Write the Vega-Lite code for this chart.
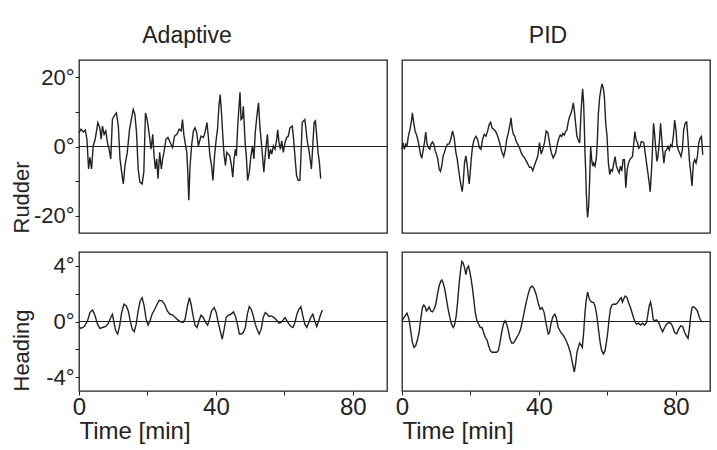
{
  "$schema": "https://vega.github.io/schema/vega-lite/v6.json",
  "background": "white",
  "padding": {"left": 9, "top": 24, "right": 5, "bottom": 5},
  "datasets": {
    "ra": [
      {"t":0,"v":4.0},{"t":0.58,"v":5.0},{"t":1.26,"v":4.2},{"t":1.84,"v":4.8},{"t":2.32,"v":2.1},{"t":2.8,"v":-6.5},{"t":3.19,"v":-3.1},{"t":3.67,"v":-6.5},{"t":4.15,"v":0.2},{"t":4.73,"v":2.1},{"t":5.51,"v":6.9},{"t":6.09,"v":5.4},{"t":6.47,"v":2.1},{"t":6.86,"v":5.9},{"t":7.34,"v":3.5},{"t":7.83,"v":4.5},{"t":8.31,"v":1.1},{"t":8.79,"v":-0.8},{"t":9.28,"v":-3.6},{"t":9.76,"v":7.8},{"t":10.24,"v":8.8},{"t":10.92,"v":9.7},{"t":11.5,"v":5.9},{"t":11.98,"v":-3.6},{"t":12.46,"v":-7.4},{"t":12.95,"v":-10.8},{"t":13.43,"v":-5.5},{"t":14.11,"v":-1.7},{"t":14.78,"v":5.0},{"t":15.36,"v":8.2},{"t":15.85,"v":10.7},{"t":16.33,"v":9.3},{"t":16.81,"v":4.0},{"t":17.29,"v":-6.5},{"t":17.78,"v":-10.3},{"t":18.45,"v":-10.8},{"t":18.94,"v":-7.4},{"t":19.42,"v":9.7},{"t":19.9,"v":7.8},{"t":20.19,"v":5.9},{"t":20.58,"v":3.0},{"t":21.06,"v":-0.8},{"t":21.55,"v":3.5},{"t":21.93,"v":-2.7},{"t":22.32,"v":-6.5},{"t":22.71,"v":-3.6},{"t":23.09,"v":-9.3},{"t":23.57,"v":-1.7},{"t":24.06,"v":-6.5},{"t":24.44,"v":-3.6},{"t":24.83,"v":-1.7},{"t":25.41,"v":2.1},{"t":25.99,"v":2.6},{"t":26.67,"v":1.1},{"t":27.34,"v":-0.3},{"t":27.92,"v":3.0},{"t":28.6,"v":3.5},{"t":29.28,"v":5.0},{"t":29.86,"v":4.5},{"t":30.24,"v":7.8},{"t":30.63,"v":3.5},{"t":31.01,"v":1.1},{"t":31.5,"v":-1.7},{"t":31.79,"v":-7.4},{"t":32.08,"v":-15.5},{"t":32.46,"v":-5.5},{"t":32.95,"v":0.7},{"t":33.43,"v":4.5},{"t":33.91,"v":5.4},{"t":34.4,"v":4.0},{"t":34.88,"v":0.2},{"t":35.65,"v":3.0},{"t":36.33,"v":2.6},
      {"t":36.81,"v":4.0},{"t":37.39,"v":6.9},{"t":37.78,"v":3.0},{"t":38.26,"v":-2.7},{"t":38.74,"v":-5.5},{"t":39.13,"v":-9.8},{"t":39.61,"v":-2.7},{"t":40.1,"v":2.1},{"t":40.48,"v":5.0},{"t":40.87,"v":11.6},{"t":41.26,"v":15.0},{"t":41.64,"v":9.7},{"t":42.03,"v":3.0},{"t":42.42,"v":-2.7},{"t":42.8,"v":-5.5},{"t":43.19,"v":-1.7},{"t":43.57,"v":-2.2},{"t":44.06,"v":-2.7},{"t":44.54,"v":-5.5},{"t":44.93,"v":-8.9},{"t":45.31,"v":-3.6},{"t":45.7,"v":-0.8},{"t":45.99,"v":-2.7},{"t":46.38,"v":5.9},{"t":46.76,"v":11.6},{"t":47.05,"v":15.7},{"t":47.34,"v":7.8},{"t":47.73,"v":8.2},{"t":48.02,"v":11.6},{"t":48.31,"v":5.9},{"t":48.6,"v":0.2},{"t":48.89,"v":-2.7},{"t":49.28,"v":-9.8},{"t":49.76,"v":-7.4},{"t":50.24,"v":-2.7},{"t":50.72,"v":0.2},{"t":51.11,"v":-3.6},{"t":51.5,"v":4.0},{"t":51.98,"v":8.8},{"t":52.46,"v":12.6},{"t":52.85,"v":5.9},{"t":53.24,"v":1.6},{"t":53.62,"v":-2.7},{"t":54.01,"v":-7.4},{"t":54.4,"v":-2.7},{"t":54.78,"v":1.1},{"t":55.07,"v":3.5},{"t":55.46,"v":-3.6},{"t":55.94,"v":-0.8},{"t":56.33,"v":-2.2},{"t":56.81,"v":0.2},{"t":57.29,"v":-0.8},{"t":57.78,"v":2.1},{"t":58.07,"v":4.8},{"t":58.45,"v":1.1},{"t":58.84,"v":-0.8},{"t":59.23,"v":1.6},{"t":59.71,"v":-1.7},{"t":60.19,"v":1.1},{"t":60.68,"v":2.6},{"t":61.16,"v":3.0},{"t":61.64,"v":5.4},{"t":62.32,"v":5.9},{"t":62.71,"v":2.1},{"t":63.09,"v":-2.7},{"t":63.57,"v":-8.4},{"t":64.06,"v":-9.8},{"t":64.54,"v":-9.8},{"t":64.83,"v":-3.6},{"t":65.22,"v":6.9},{"t":65.6,"v":7.4},{"t":65.99,"v":7.8},{"t":66.38,"v":4.5},{"t":66.76,"v":1.1},{"t":67.15,"v":-0.8},{"t":67.54,"v":-3.6},{"t":67.92,"v":-6.5},{"t":68.31,"v":0.2},{"t":68.7,"v":6.9},{"t":69.08,"v":7.4},{"t":69.47,"v":3.0},{"t":69.86,"v":-1.7},{"t":70.24,"v":-4.6},{"t":70.63,"v":-9.3}
    ],
    "rp": [
      {"t":0,"v":-0.8},{"t":0.29,"v":1.1},{"t":0.68,"v":-0.8},{"t":1.08,"v":0.7},{"t":1.47,"v":0.2},{"t":1.86,"v":3.0},{"t":2.35,"v":5.0},{"t":2.83,"v":7.8},{"t":3.03,"v":9.7},{"t":3.42,"v":6.9},{"t":3.81,"v":4.5},{"t":4.2,"v":3.5},{"t":4.59,"v":2.1},{"t":4.99,"v":0.2},{"t":5.38,"v":-2.2},{"t":5.77,"v":-3.4},{"t":6.16,"v":-1.2},{"t":6.55,"v":1.1},{"t":6.94,"v":4.2},{"t":7.33,"v":0.7},{"t":7.72,"v":-0.3},{"t":8.11,"v":-0.8},{"t":8.5,"v":0.7},{"t":8.9,"v":1.3},{"t":9.29,"v":0.7},{"t":9.68,"v":-1.2},{"t":10.07,"v":-2.2},{"t":10.46,"v":-3.6},{"t":10.85,"v":-6.5},{"t":11.24,"v":-7.2},{"t":11.63,"v":-5.5},{"t":12.02,"v":-2.7},{"t":12.41,"v":-1.7},{"t":12.81,"v":-0.3},{"t":13.29,"v":0.7},{"t":13.78,"v":0.7},{"t":14.27,"v":2.1},{"t":14.76,"v":4.5},{"t":15.25,"v":2.6},{"t":15.74,"v":-1.7},{"t":16.13,"v":-3.6},{"t":16.52,"v":-6.5},{"t":16.91,"v":-9.3},{"t":17.3,"v":-11.6},{"t":17.6,"v":-13.0},{"t":17.89,"v":-10.3},{"t":18.28,"v":-4.6},{"t":18.67,"v":-2.7},{"t":19.06,"v":-5.5},{"t":19.35,"v":-8.4},{"t":19.65,"v":-10.8},{"t":19.94,"v":-7.4},{"t":20.23,"v":-3.6},{"t":20.63,"v":0.2},{"t":21.11,"v":2.1},{"t":21.6,"v":2.9},{"t":22.09,"v":2.1},{"t":22.58,"v":-0.3},{"t":23.07,"v":-0.8},{"t":23.56,"v":2.1},{"t":24.05,"v":3.5},{"t":24.54,"v":3.0},{"t":25.02,"v":4.5},{"t":25.51,"v":6.4},{"t":25.9,"v":7.0},{"t":26.3,"v":5.4},{"t":26.78,"v":5.0},{"t":27.27,"v":4.5},{"t":27.76,"v":3.5},{"t":28.25,"v":2.1},{"t":28.74,"v":0.2},{"t":29.23,"v":-1.7},{"t":29.72,"v":-2.9},{"t":30.21,"v":-0.8},{"t":30.6,"v":2.1},{"t":31.09,"v":4.0},{"t":31.57,"v":6.4},{"t":31.87,"v":8.3},{"t":32.16,"v":5.4},{"t":32.55,"v":3.5},{"t":32.94,"v":3.0},{"t":33.33,"v":1.6},{"t":33.82,"v":0.7},{"t":34.31,"v":-0.3},{"t":34.8,"v":-1.7},{"t":35.29,"v":-2.7},{"t":35.78,"v":-3.2},{"t":36.27,"v":-4.1},{"t":36.75,"v":-5.0},{"t":37.24,"v":-6.0},{"t":37.73,"v":-6.0},{"t":38.22,"v":-7.0},{"t":38.71,"v":-5.5},{"t":39.2,"v":-4.1},{"t":39.69,"v":-2.7},{"t":40.18,"v":1.1},{"t":40.66,"v":-2.2},{"t":41.15,"v":-0.8},{"t":41.64,"v":1.1},{"t":42.13,"v":4.5},{"t":42.62,"v":4.0},{"t":43.11,"v":1.1},{"t":43.6,"v":-1.7},
      {"t":44.18,"v":-3.3},{"t":44.87,"v":-1.9},{"t":45.45,"v":1.0},{"t":45.85,"v":2.4},{"t":46.24,"v":3.3},{"t":46.63,"v":2.9},{"t":47.02,"v":3.8},{"t":47.41,"v":3.3},{"t":47.8,"v":4.3},{"t":48.19,"v":4.8},{"t":48.58,"v":7.1},{"t":48.97,"v":8.6},{"t":49.36,"v":9.5},{"t":49.76,"v":11.0},{"t":50.05,"v":12.6},{"t":50.34,"v":10.5},{"t":50.73,"v":6.7},{"t":51.12,"v":2.9},{"t":51.52,"v":1.9},{"t":51.91,"v":1.0},{"t":52.3,"v":9.5},{"t":52.59,"v":14.3},{"t":52.79,"v":16.7},{"t":53.08,"v":12.4},{"t":53.28,"v":5.7},{"t":53.47,"v":-1.9},{"t":53.67,"v":-6.7},{"t":53.86,"v":-13.3},{"t":54.06,"v":-18.1},{"t":54.25,"v":-20.5},{"t":54.55,"v":-17.1},{"t":54.84,"v":-9.5},{"t":55.13,"v":0},{"t":55.43,"v":-3.8},{"t":55.72,"v":-5.7},{"t":56.01,"v":-4.8},{"t":56.4,"v":-5.7},{"t":56.79,"v":-3.3},{"t":57.09,"v":1.9},{"t":57.38,"v":9.5},{"t":57.77,"v":14.3},{"t":58.16,"v":16.7},{"t":58.46,"v":18.1},{"t":58.85,"v":16.7},{"t":59.14,"v":14.3},{"t":59.53,"v":6.7},{"t":59.92,"v":2.9},{"t":60.31,"v":-4.8},{"t":60.7,"v":-8.1},{"t":61.09,"v":-6.7},{"t":61.49,"v":-7.1},{"t":61.88,"v":-4.8},{"t":62.27,"v":-2.9},{"t":62.66,"v":-5.7},{"t":63.05,"v":-6.7},{"t":63.44,"v":-7.6},{"t":63.83,"v":-5.7},{"t":64.22,"v":-7.1},{"t":64.61,"v":-3.8},{"t":65.0,"v":-3.8},{"t":65.4,"v":-11.9},{"t":65.79,"v":-6.7},{"t":66.18,"v":-4.8},{"t":66.57,"v":-3.8},{"t":66.96,"v":-3.3},{"t":67.35,"v":-2.9},{"t":67.74,"v":1.0},{"t":68.04,"v":4.3},{"t":68.43,"v":1.9},{"t":68.82,"v":1.0},{"t":69.21,"v":-0.5},{"t":69.6,"v":0},{"t":69.89,"v":1.4},{"t":70.28,"v":1.4},{"t":70.67,"v":1.0},{"t":71.07,"v":-1.9},{"t":71.46,"v":-4.8},{"t":71.85,"v":-7.6},{"t":72.24,"v":-10.5},{"t":72.53,"v":-13.1},{"t":72.92,"v":-6.7},{"t":73.22,"v":0},{"t":73.51,"v":6.7},{"t":73.8,"v":3.8},{"t":74.09,"v":0},{"t":74.49,"v":-4.3},{"t":74.78,"v":-2.9},{"t":75.17,"v":1.0},{"t":75.56,"v":6.7},{"t":75.85,"v":2.9},{"t":76.15,"v":-1.0},{"t":76.54,"v":-4.8},{"t":76.93,"v":-1.4},{"t":77.32,"v":-1.0},{"t":77.71,"v":0},{"t":78.1,"v":-1.0},{"t":78.49,"v":0.5},{"t":78.89,"v":0},{"t":79.28,"v":2.9},{"t":79.67,"v":7.6},{"t":80.06,"v":4.8},{"t":80.35,"v":0.5},{"t":80.74,"v":-1.0},{"t":81.13,"v":-1.9},{"t":81.52,"v":-2.9},{"t":81.92,"v":-1.0},{"t":82.31,"v":4.8},{"t":82.8,"v":6.9},{"t":83.19,"v":7.1},{"t":83.58,"v":1.9},{"t":83.97,"v":-3.8},{"t":84.36,"v":-7.6},{"t":84.75,"v":-11.4},{"t":85.14,"v":-4.8},{"t":85.53,"v":-3.8},{"t":85.92,"v":-4.8},{"t":86.31,"v":-2.9},{"t":86.71,"v":1.0},{"t":87.1,"v":2.4},{"t":87.49,"v":2.9},{"t":87.88,"v":-2.4}
    ],
    "ha": [
      {"t":0,"v":-0.36},{"t":0.58,"v":-0.5},{"t":1.55,"v":-0.36},{"t":2.51,"v":0.05},{"t":3.19,"v":0.64},{"t":3.96,"v":0.83},{"t":4.73,"v":0.4},{"t":5.41,"v":-0.19},{"t":6.09,"v":-0.5},{"t":6.86,"v":-0.43},{"t":7.83,"v":-0.36},{"t":8.6,"v":-0.12},{"t":9.28,"v":0.29},{"t":9.76,"v":0.52},{"t":10.24,"v":-0.07},{"t":10.72,"v":-0.67},{"t":11.3,"v":-0.9},{"t":11.88,"v":-0.31},{"t":12.46,"v":0.64},{"t":13.14,"v":1.24},{"t":13.82,"v":1.12},{"t":14.4,"v":0.76},{"t":14.98,"v":0.05},{"t":15.56,"v":-0.55},{"t":16.14,"v":-0.74},{"t":16.71,"v":-0.19},{"t":17.29,"v":0.76},{"t":17.87,"v":1.48},{"t":18.45,"v":1.71},{"t":19.03,"v":1.12},{"t":19.61,"v":0.17},{"t":20.19,"v":-0.26},{"t":20.77,"v":0.05},{"t":21.35,"v":0.52},{"t":22.13,"v":0.88},{"t":22.8,"v":1.24},{"t":23.48,"v":1.52},{"t":24.25,"v":1.48},{"t":25.02,"v":1.24},{"t":25.8,"v":0.76},{"t":26.57,"v":0.52},{"t":27.34,"v":0.48},{"t":28.12,"v":0.29},{"t":28.89,"v":0.12},{"t":29.66,"v":-0.02},{"t":30.43,"v":-0.07},{"t":31.01,"v":0.17},{"t":31.59,"v":1.0},{"t":32.27,"v":1.71},{"t":32.75,"v":1.24},{"t":33.33,"v":0.4},{"t":33.91,"v":-0.26},{"t":34.49,"v":-0.43},{"t":35.07,"v":0.05},{"t":35.65,"v":0.45},{"t":36.33,"v":0.29},{"t":37.0,"v":-0.07},{"t":37.58,"v":-0.26},{"t":38.16,"v":0.17},{"t":38.74,"v":0.76},{"t":39.52,"v":1.0},{"t":40.1,"v":0.64},{"t":40.68,"v":-0.07},{"t":41.26,"v":-0.67},{"t":41.84,"v":-1.26},{"t":42.42,"v":-0.55},{"t":43.0,"v":0.29},{"t":43.57,"v":0.45},{"t":44.35,"v":0.52},{"t":45.12,"v":0.69},{"t":45.7,"v":0.4},{"t":46.28,"v":-0.19},{"t":46.86,"v":-0.9},{"t":47.44,"v":-0.9},{"t":48.02,"v":-0.79},{"t":48.6,"v":-0.43},{"t":49.18,"v":0.52},{"t":49.76,"v":1.07},{"t":50.34,"v":0.88},{"t":50.92,"v":0.4},{"t":51.5,"v":-0.19},{"t":52.08,"v":-0.6},{"t":52.66,"v":-0.9},{"t":53.24,"v":-0.55},{"t":53.82,"v":0.29},{"t":54.4,"v":0.64},{"t":54.98,"v":0.52},{"t":55.56,"v":0.36},{"t":56.14,"v":0.4},{"t":56.71,"v":0.33},{"t":57.29,"v":0.21},{"t":57.87,"v":0.05},{"t":58.45,"v":-0.12},{"t":59.03,"v":-0.07},{"t":59.61,"v":0.1},{"t":60.19,"v":0.29},{"t":60.77,"v":0.05},{"t":61.35,"v":-0.19},{"t":61.93,"v":-0.36},{"t":62.51,"v":-0.43},{"t":63.09,"v":-0.07},{"t":63.67,"v":0.52},{"t":64.25,"v":0.88},{"t":64.83,"v":1.07},{"t":65.41,"v":0.4},{"t":65.99,"v":-0.19},{"t":66.57,"v":-0.43},{"t":67.15,"v":-0.07},{"t":67.73,"v":0.29},{"t":68.31,"v":0.52},{"t":68.89,"v":0.05},{"t":69.47,"v":-0.36},{"t":70.05,"v":0.05},{"t":70.63,"v":0.52},{"t":71.11,"v":0.83}
    ],
    "hp": [
      {"t":0,"v":0.05},{"t":0.88,"v":0.4},{"t":1.47,"v":0.6},{"t":2.05,"v":0.17},{"t":2.54,"v":-0.67},{"t":3.03,"v":-1.5},{"t":3.52,"v":-1.86},{"t":4.01,"v":-1.74},{"t":4.5,"v":-1.31},{"t":4.99,"v":-0.79},{"t":5.47,"v":0.17},{"t":5.96,"v":1.0},{"t":6.35,"v":1.19},{"t":6.74,"v":1.07},{"t":7.14,"v":0.76},{"t":7.53,"v":0.88},{"t":7.92,"v":1.05},{"t":8.41,"v":0.76},{"t":8.9,"v":0.69},{"t":9.38,"v":0.88},{"t":9.87,"v":1.24},{"t":10.36,"v":1.95},{"t":10.85,"v":2.55},{"t":11.34,"v":2.9},{"t":11.63,"v":2.98},{"t":12.02,"v":2.79},{"t":12.51,"v":2.31},{"t":13.0,"v":1.6},{"t":13.49,"v":0.88},{"t":13.98,"v":0.29},{"t":14.47,"v":-0.19},{"t":14.96,"v":-0.43},{"t":15.35,"v":-0.26},{"t":15.84,"v":0.4},{"t":16.23,"v":1.36},{"t":16.72,"v":2.79},{"t":17.2,"v":3.86},{"t":17.5,"v":4.33},{"t":17.89,"v":4.21},{"t":18.28,"v":3.86},{"t":18.67,"v":3.38},{"t":19.06,"v":3.86},{"t":19.45,"v":3.98},{"t":19.84,"v":3.55},{"t":20.23,"v":3.02},{"t":20.63,"v":2.31},{"t":21.02,"v":1.48},{"t":21.41,"v":0.64},{"t":21.9,"v":0.05},{"t":22.39,"v":-0.19},{"t":22.87,"v":-0.43},{"t":23.36,"v":-0.43},{"t":23.85,"v":-0.79},{"t":24.34,"v":-1.14},{"t":24.83,"v":-1.31},{"t":25.32,"v":-1.74},{"t":25.81,"v":-2.1},{"t":26.3,"v":-2.21},{"t":26.98,"v":-2.21},{"t":27.66,"v":-2.21},{"t":28.15,"v":-2.1},{"t":28.64,"v":-1.5},{"t":29.13,"v":-0.79},{"t":29.62,"v":-0.19},{"t":30.11,"v":0.05},{"t":30.6,"v":-0.19},{"t":31.09,"v":-0.67},{"t":31.57,"v":-1.26},{"t":32.06,"v":-1.55},{"t":32.55,"v":-1.55},{"t":33.04,"v":-1.38},{"t":33.53,"v":-1.14},{"t":34.12,"v":-0.9},{"t":34.6,"v":-0.6},{"t":35.09,"v":-0.07},{"t":35.68,"v":0.64},{"t":36.27,"v":1.36},{"t":36.85,"v":1.95},{"t":37.44,"v":2.43},{"t":38.03,"v":2.55},{"t":38.61,"v":2.36},{"t":39.2,"v":1.95},{"t":39.78,"v":1.36},{"t":40.37,"v":0.88},{"t":40.96,"v":1.0},{"t":41.54,"v":0.64},{"t":42.13,"v":-0.19},{"t":42.72,"v":-0.9},{"t":43.11,"v":-0.79},{"t":43.6,"v":-0.07},{"t":44.09,"v":0.36},{"t":44.67,"v":0.52},{"t":45.06,"v":0.29},
      {"t":45.65,"v":-0.43},{"t":46.43,"v":-0.79},{"t":47.21,"v":-1.02},{"t":47.99,"v":-1.38},{"t":48.58,"v":-1.74},{"t":49.17,"v":-2.21},{"t":49.76,"v":-2.93},{"t":50.34,"v":-3.64},{"t":50.73,"v":-3.05},{"t":51.12,"v":-2.21},{"t":51.52,"v":-1.86},{"t":51.91,"v":-1.55},{"t":52.3,"v":-1.69},{"t":52.69,"v":-1.86},{"t":53.08,"v":-0.79},{"t":53.47,"v":0.64},{"t":53.86,"v":1.6},{"t":54.25,"v":2.12},{"t":54.64,"v":1.71},{"t":55.03,"v":1.48},{"t":55.43,"v":1.4},{"t":56.01,"v":1.36},{"t":56.4,"v":1.12},{"t":56.79,"v":0.64},{"t":57.18,"v":-0.07},{"t":57.58,"v":-0.9},{"t":57.97,"v":-1.62},{"t":58.36,"v":-2.1},{"t":58.85,"v":-2.33},{"t":59.34,"v":-2.1},{"t":59.73,"v":-1.5},{"t":60.12,"v":-0.79},{"t":60.51,"v":0.17},{"t":60.9,"v":0.88},{"t":61.29,"v":1.17},{"t":61.88,"v":1.26},{"t":62.46,"v":1.24},{"t":63.05,"v":1.36},{"t":63.64,"v":1.6},{"t":64.03,"v":1.71},{"t":64.42,"v":1.4},{"t":64.81,"v":1.64},{"t":65.2,"v":1.83},{"t":65.79,"v":1.71},{"t":66.18,"v":1.36},{"t":66.76,"v":1.0},{"t":67.35,"v":0.52},{"t":67.94,"v":0.05},{"t":68.52,"v":-0.19},{"t":69.11,"v":-0.12},{"t":69.7,"v":-0.26},{"t":70.28,"v":-0.12},{"t":70.87,"v":-0.26},{"t":71.46,"v":-0.07},{"t":71.85,"v":0.52},{"t":72.24,"v":1.12},{"t":72.63,"v":1.4},{"t":73.02,"v":0.88},{"t":73.41,"v":0.17},{"t":73.8,"v":0.05},{"t":74.39,"v":0.12},{"t":74.98,"v":-0.07},{"t":75.56,"v":-0.43},{"t":76.15,"v":-0.74},{"t":76.74,"v":-0.43},{"t":77.32,"v":-0.19},{"t":77.91,"v":-0.07},{"t":78.49,"v":-0.12},{"t":79.08,"v":-0.36},{"t":79.67,"v":-0.79},{"t":80.25,"v":-0.9},{"t":80.84,"v":-0.55},{"t":81.43,"v":-0.31},{"t":82.01,"v":-0.36},{"t":82.6,"v":-0.79},{"t":83.19,"v":-1.07},{"t":83.58,"v":-1.21},{"t":83.97,"v":-0.55},{"t":84.36,"v":0.4},{"t":84.75,"v":1.0},{"t":85.14,"v":1.07},{"t":85.73,"v":0.95},{"t":86.31,"v":0.76},{"t":86.9,"v":0.29},{"t":87.49,"v":0.0},{"t":87.88,"v":-0.02}
    ],
    "zero": [{"v":0}]
  },
  "columns": 2,
  "spacing": {"row": 17, "column": 5},
  "concat": [
    {
      "width": 308, "height": 173,
      "title": {"text": "Adaptive", "dx": -46},
      "encoding": {"y": {"field": "v", "type": "quantitative", "scale": {"domain": [-25, 25], "nice": false},
        "axis": {"title": "Rudder", "values": [-20, -10, 0, 10, 20], "labelExpr": "abs(datum.value) % 20 == 0 ? datum.value + '°' : ''"}}},
      "layer": [
        {"data": {"name": "ra"}, "mark": {"type": "line", "color": "#222", "strokeWidth": 1.4},
         "encoding": {"x": {"field": "t", "type": "quantitative", "scale": {"domain": [0, 90], "nice": false}, "axis": null}}},
        {"data": {"name": "zero"}, "mark": {"type": "rule", "color": "#222", "strokeWidth": 1}, "encoding": {}}
      ]
    },
    {
      "width": 308, "height": 173,
      "title": {"text": "PID", "dx": -8},
      "encoding": {"y": {"field": "v", "type": "quantitative", "scale": {"domain": [-25, 25], "nice": false}, "axis": null}},
      "layer": [
        {"data": {"name": "rp"}, "mark": {"type": "line", "color": "#222", "strokeWidth": 1.4},
         "encoding": {"x": {"field": "t", "type": "quantitative", "scale": {"domain": [0, 90], "nice": false}, "axis": null}}},
        {"data": {"name": "zero"}, "mark": {"type": "rule", "color": "#222", "strokeWidth": 1}, "encoding": {}}
      ]
    },
    {
      "width": 308, "height": 139,
      "encoding": {"y": {"field": "v", "type": "quantitative", "scale": {"domain": [-5, 5], "nice": false},
        "axis": {"title": "Heading", "values": [-4, -2, 0, 2, 4], "labelExpr": "abs(datum.value) % 4 == 0 ? datum.value + '°' : ''"}}},
      "layer": [
        {"data": {"name": "ha"}, "mark": {"type": "line", "color": "#222", "strokeWidth": 1.4},
         "encoding": {"x": {"field": "t", "type": "quantitative", "scale": {"domain": [0, 90], "nice": false},
           "axis": {"title": "Time [min]", "values": [0, 20, 40, 60, 80], "labelExpr": "datum.value % 40 == 0 ? datum.label : ''"}}}},
        {"data": {"name": "zero"}, "mark": {"type": "rule", "color": "#222", "strokeWidth": 1}, "encoding": {}}
      ]
    },
    {
      "width": 308, "height": 139,
      "encoding": {"y": {"field": "v", "type": "quantitative", "scale": {"domain": [-5, 5], "nice": false}, "axis": null}},
      "layer": [
        {"data": {"name": "hp"}, "mark": {"type": "line", "color": "#222", "strokeWidth": 1.4},
         "encoding": {"x": {"field": "t", "type": "quantitative", "scale": {"domain": [0, 90], "nice": false},
           "axis": {"title": "Time [min]", "values": [0, 20, 40, 60, 80], "labelExpr": "datum.value % 40 == 0 ? datum.label : ''"}}}},
        {"data": {"name": "zero"}, "mark": {"type": "rule", "color": "#222", "strokeWidth": 1}, "encoding": {}}
      ]
    }
  ],
  "config": {
    "view": {"stroke": "#222", "strokeWidth": 1.3},
    "axis": {"grid": false, "domain": false, "tickColor": "#222", "labelColor": "#222", "titleColor": "#222",
      "labelFont": "Liberation Sans", "titleFont": "Liberation Sans", "titleFontWeight": "normal",
      "labelOverlap": false, "labelBound": false, "labelFlush": false},
    "axisY": {"tickSize": 4, "labelPadding": 1, "labelFontSize": 22, "minExtent": 46, "maxExtent": 46, "titlePadding": 0, "titleAnchor": "start", "titleFontSize": 22},
    "axisX": {"tickSize": 4, "labelPadding": 0, "labelFontSize": 24, "titlePadding": 0, "titleAnchor": "start", "titleFontSize": 24},
    "title": {"font": "Liberation Sans", "fontSize": 23, "fontWeight": "normal", "color": "#222", "offset": 12}
  }
}
